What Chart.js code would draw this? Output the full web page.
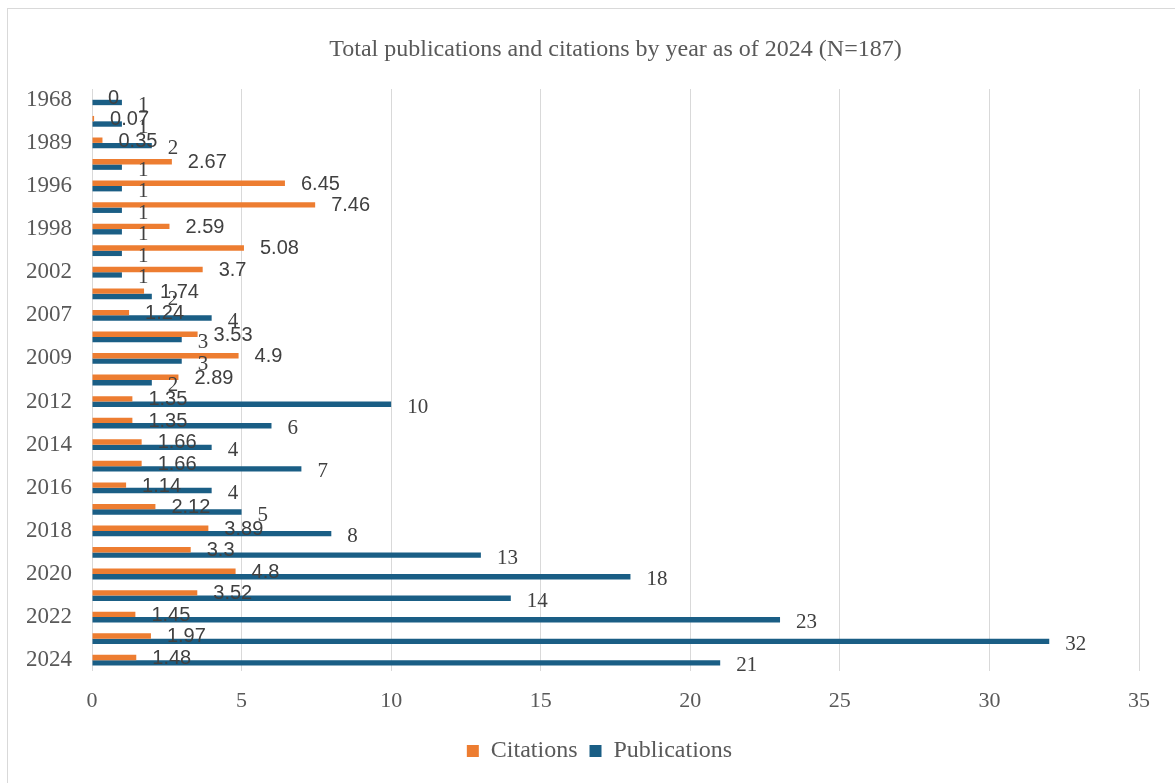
<!DOCTYPE html>
<html>
<head>
<meta charset="utf-8">
<script src="https://cdn.jsdelivr.net/npm/chart.js@4"></script>
<style>
  html, body { margin: 0; padding: 0; background: #fff; overflow: hidden; }
  #wrap { position: relative; width: 1175px; height: 783px; }
  #frame { position: absolute; left: 7px; top: 8px; width: 1175px; height: 783px; border: 1px solid #d9d9d9; box-sizing: border-box; }
  canvas { position: absolute; left: 0; top: 0; }
</style>
</head>
<body>
<div id="wrap">
  <div id="frame"></div>
  <canvas id="myChart" width="1175" height="783"></canvas>
</div>
<script>
const years = ["1968", "1987", "1989", "1993", "1996", "1997", "1998", "2000", "2002", "2006",
  "2007", "2008", "2009", "2011", "2012", "2013", "2014", "2015", "2016", "2017",
  "2018", "2019", "2020", "2021", "2022", "2023", "2024"];
const citations = [0, 0.07, 0.35, 2.67, 6.45, 7.46, 2.59, 5.08, 3.7, 1.74,
  1.24, 3.53, 4.9, 2.89, 1.35, 1.35, 1.66, 1.66, 1.14, 2.12,
  3.89, 3.3, 4.8, 3.52, 1.45, 1.97, 1.48];
const publications = [1, 1, 2, 1, 1, 1, 1, 1, 1, 2,
  4, 3, 3, 2, 10, 6, 4, 7, 4, 5,
  8, 13, 18, 14, 23, 32, 21];
const xTicks = [0, 5, 10, 15, 20, 25, 30, 35];
const titleText = "Total publications and citations by year as of 2024 (N=187)";

const serif = "'Liberation Serif', 'Times New Roman', serif";
const sans = "'Liberation Sans', Arial, sans-serif";
Chart.defaults.font.family = serif;
Chart.defaults.color = "#595959";

// title centred over the plot area, as Excel does
const plotTitle = {
  id: "plotTitle",
  afterLayout(chart) {
    // Excel centres the legend a bit right of the canvas middle
    if (chart.legend) chart.legend.left += 60;
  },
  afterDraw(chart) {
    const c = chart.ctx;
    const area = chart.chartArea;
    c.save();
    c.font = "24px " + serif;
    c.fillStyle = "#595959";
    c.textAlign = "center";
    c.textBaseline = "middle";
    c.fillText(titleText, (area.left + area.right) / 2, 50);
    c.restore();
  },
};

// labels at the end of each bar, like Excel's "outside end"
const barLabels = {
  id: "barLabels",
  afterDatasetsDraw(chart) {
    const c = chart.ctx;
    c.save();
    c.fillStyle = "#404040";
    c.textAlign = "left";
    c.textBaseline = "middle";
    chart.data.datasets.forEach(function (ds, di) {
      const meta = chart.getDatasetMeta(di);
      c.font = di === 0 ? "20px " + sans : "21px " + serif;
      meta.data.forEach(function (bar, i) {
        const dy = di === 0 ? 1 : 3;
        c.fillText(String(ds.data[i]), bar.x + 16, bar.y + dy);
      });
    });
    c.restore();
  },
};

const ctx = document.getElementById("myChart");

var chart = new Chart(ctx, {
  type: "bar",
  data: {
    labels: years,
    datasets: [
      {
        label: "Citations",
        data: citations,
        backgroundColor: "#ED7D31",
        categoryPercentage: 0.5,
        barPercentage: 1,
      },
      {
        label: "Publications",
        data: publications,
        backgroundColor: "#1A5E85",
        categoryPercentage: 0.5,
        barPercentage: 1,
      },
    ],
  },
  options: {
    indexAxis: "y",
    responsive: false,
    animation: false,
    layout: { padding: { left: 0, right: 36, top: 89, bottom: 10 } },
    scales: {
      x: {
        min: 0,
        max: 35,
        afterBuildTicks: function (axis) {
          axis.ticks = xTicks.map(function (v) { return { value: v }; });
        },
        afterFit: function (axis) { axis.height = 56; },
        grid: { color: "#d9d9d9", lineWidth: 1, drawTicks: false },
        border: { display: false },
        ticks: { color: "#595959", font: { family: serif, size: 22 }, padding: 17 },
      },
      y: {
        afterFit: function (axis) { axis.width = 92; },
        grid: { display: false, drawTicks: false },
        border: { display: false },
        ticks: {
          autoSkip: false,
          color: "#595959",
          font: { family: serif, size: 23 },
          padding: 20,
          callback: function (v, i) { return i % 2 === 0 ? years[i] : ""; },
        },
      },
    },
    plugins: {
      title: { display: false },
      legend: {
        position: "bottom",
        labels: {
          color: "#595959",
          font: { family: serif, size: 24 },
          boxWidth: 12,
          boxHeight: 12,
          padding: 12,
        },
      },
      tooltip: { enabled: false },
    },
  },
  plugins: [barLabels, plotTitle],
});
</script>
</body>
</html>
